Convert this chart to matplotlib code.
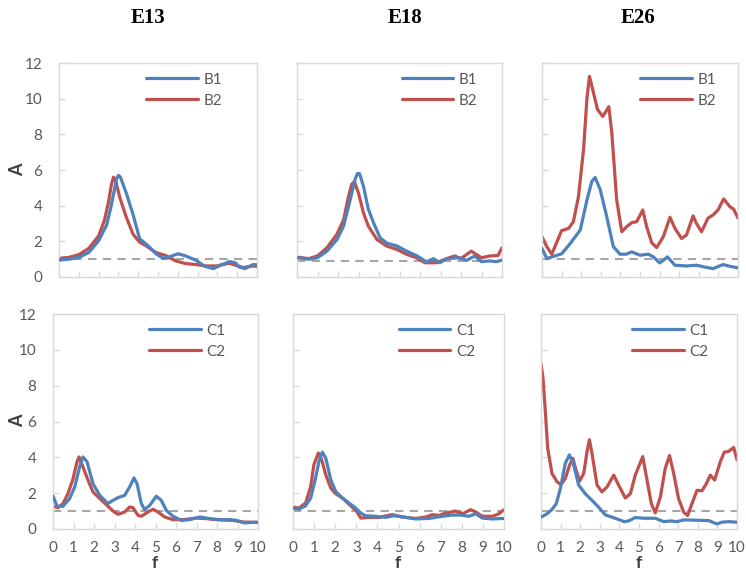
import numpy as np
import matplotlib as mpl
mpl.use("Agg")
import matplotlib.pyplot as plt

mpl.rcParams.update({
    "font.family": ["Lato", "DejaVu Sans"],
    "font.size": 11,
})

blue = '#4F81BD'
red = '#C0504D'
grid_gray = '#D9D9D9'
text_gray = '#595959'

# ---- E13, B series ----
e13_b1_f = [0, 0.5, 1, 1.5, 2, 2.4, 2.6, 2.8, 2.9, 3.0, 3.1, 3.4, 3.74, 4.07, 4.5, 4.9, 5.25, 5.5, 6.0, 6.35, 6.9, 7.36, 7.8, 8.2, 8.6, 8.9, 9.1, 9.4, 9.8, 10]
e13_b1_a = [0.95, 1.0, 1.1, 1.37, 2.03, 2.9, 3.8, 4.9, 5.5, 5.7, 5.6, 4.7, 3.5, 2.15, 1.75, 1.3, 1.05, 1.1, 1.3, 1.2, 0.95, 0.6, 0.47, 0.68, 0.86, 0.8, 0.56, 0.47, 0.7, 0.68]
e13_b2_f = [0, 0.5, 1, 1.5, 2, 2.3, 2.5, 2.65, 2.75, 2.85, 3.06, 3.4, 3.74, 4.07, 4.4, 4.9, 5.4, 5.9, 6.4, 6.9, 7.44, 7.95, 8.6, 8.8, 9.3, 9.8, 10]
e13_b2_a = [1.05, 1.1, 1.25, 1.6, 2.3, 3.2, 4.2, 5.2, 5.6, 5.45, 4.5, 3.35, 2.4, 1.95, 1.75, 1.37, 1.2, 0.9, 0.75, 0.7, 0.62, 0.62, 0.77, 0.7, 0.53, 0.62, 0.6]

# ---- E18, B series ----
e18_b1_f = [0, 0.57, 1.0, 1.46, 1.95, 2.27, 2.6, 2.84, 2.95, 3.05, 3.24, 3.48, 3.73, 4.05, 4.38, 4.86, 5.35, 5.83, 6.32, 6.65, 6.97, 7.3, 7.94, 8.27, 8.67, 9.0, 9.4, 9.72, 10]
e18_b1_a = [1.08, 1.0, 1.08, 1.45, 2.1, 2.85, 4.35, 5.5, 5.8, 5.8, 5.1, 3.8, 3.05, 2.2, 1.9, 1.75, 1.45, 1.2, 0.85, 1.03, 0.8, 1.03, 1.08, 0.93, 1.18, 0.86, 0.9, 0.86, 0.95]
e18_b2_f = [0, 0.57, 1.0, 1.46, 1.95, 2.27, 2.51, 2.67, 2.8, 3.0, 3.24, 3.48, 3.9, 4.38, 4.86, 5.35, 5.83, 6.24, 6.8, 7.3, 7.7, 8.0, 8.5, 9.0, 9.4, 9.8, 10]
e18_b2_a = [1.12, 1.03, 1.18, 1.64, 2.4, 3.2, 4.5, 5.2, 5.35, 4.7, 3.6, 2.85, 2.1, 1.73, 1.55, 1.27, 1.08, 0.8, 0.8, 1.03, 1.18, 1.03, 1.45, 1.08, 1.18, 1.2, 1.64]

# ---- E26, B series ----
e26_b1_f = [0, 0.25, 0.5, 1.0, 1.44, 1.95, 2.29, 2.54, 2.71, 2.97, 3.3, 3.64, 3.98, 4.3, 4.58, 5.0, 5.42, 5.68, 6.0, 6.2, 6.4, 6.78, 7.37, 7.88, 8.3, 8.73, 9.24, 9.58, 10]
e26_b1_a = [1.6, 1.03, 1.13, 1.3, 1.88, 2.63, 4.3, 5.36, 5.58, 4.9, 3.4, 1.7, 1.28, 1.28, 1.41, 1.22, 1.28, 1.13, 0.79, 0.94, 1.13, 0.66, 0.62, 0.66, 0.56, 0.47, 0.7, 0.6, 0.51]
e26_b2_f = [0, 0.25, 0.5, 0.76, 1.0, 1.36, 1.6, 1.86, 2.12, 2.29, 2.42, 2.59, 2.83, 3.1, 3.27, 3.41, 3.56, 3.81, 4.07, 4.32, 4.58, 4.83, 5.14, 5.34, 5.6, 5.85, 6.19, 6.53, 6.78, 7.12, 7.37, 7.71, 7.88, 8.14, 8.47, 8.73, 8.98, 9.27, 9.58, 9.78, 10]
e26_b2_a = [2.26, 1.69, 1.28, 1.97, 2.6, 2.73, 3.1, 4.5, 7.15, 9.97, 11.25, 10.5, 9.4, 9.0, 9.3, 9.55, 8.1, 4.33, 2.54, 2.82, 3.05, 3.1, 3.76, 2.82, 1.92, 1.65, 2.26, 3.35, 2.73, 2.16, 2.35, 3.43, 3.0, 2.54, 3.3, 3.48, 3.76, 4.38, 3.95, 3.8, 3.3]

# ---- E13, C series ----
e13_c1_f = [0, 0.2, 0.49, 0.81, 1.06, 1.3, 1.46, 1.66, 1.95, 2.28, 2.68, 2.93, 3.17, 3.5, 3.74, 3.95, 4.1, 4.31, 4.47, 4.72, 5.04, 5.28, 5.53, 5.85, 6.26, 6.67, 7.15, 7.64, 8.13, 8.62, 8.94, 9.35, 9.76, 10]
e13_c1_a = [1.84, 1.27, 1.27, 1.7, 2.35, 3.47, 4.02, 3.75, 2.53, 1.88, 1.42, 1.6, 1.75, 1.88, 2.35, 2.85, 2.53, 1.42, 1.08, 1.32, 1.83, 1.6, 1.04, 0.71, 0.48, 0.52, 0.67, 0.58, 0.52, 0.52, 0.48, 0.34, 0.37, 0.37]
e13_c2_f = [0, 0.24, 0.49, 0.73, 0.98, 1.17, 1.27, 1.46, 1.71, 1.95, 2.28, 2.68, 2.93, 3.17, 3.5, 3.74, 3.9, 4.15, 4.31, 4.63, 4.88, 5.12, 5.45, 5.85, 6.34, 6.99, 7.48, 7.97, 8.78, 9.27, 10]
e13_c2_a = [1.27, 1.19, 1.42, 1.98, 2.81, 3.75, 4.02, 3.47, 2.72, 2.07, 1.7, 1.27, 1.0, 0.82, 0.95, 1.23, 1.19, 0.76, 0.71, 0.95, 1.1, 0.95, 0.67, 0.52, 0.52, 0.61, 0.58, 0.52, 0.48, 0.39, 0.37]

# ---- E18, C series ----
e18_c1_f = [0, 0.28, 0.6, 0.84, 1.07, 1.23, 1.39, 1.55, 1.79, 2.02, 2.34, 2.65, 2.97, 3.21, 3.44, 3.92, 4.39, 4.79, 5.34, 5.81, 6.45, 7.08, 7.55, 7.95, 8.34, 8.66, 8.97, 9.45, 10]
e18_c1_a = [1.17, 1.11, 1.3, 1.73, 2.84, 3.77, 4.29, 3.96, 2.75, 2.1, 1.73, 1.45, 1.17, 0.89, 0.74, 0.71, 0.65, 0.74, 0.65, 0.56, 0.59, 0.71, 0.78, 0.78, 0.71, 0.85, 0.61, 0.56, 0.59]
e18_c2_f = [0, 0.28, 0.6, 0.84, 0.99, 1.2, 1.36, 1.55, 1.79, 2.02, 2.34, 2.73, 3.02, 3.21, 3.6, 4.08, 4.71, 5.18, 5.81, 6.29, 6.6, 6.92, 7.23, 7.7, 8.03, 8.42, 8.66, 8.97, 9.45, 9.76, 10]
e18_c2_a = [1.23, 1.17, 1.45, 2.38, 3.59, 4.24, 3.86, 3.03, 2.28, 1.97, 1.73, 1.3, 0.98, 0.61, 0.65, 0.65, 0.8, 0.67, 0.59, 0.67, 0.8, 0.76, 0.89, 1.0, 0.85, 1.08, 0.95, 0.71, 0.71, 0.85, 1.08]

# ---- E26, C series ----
e26_c1_f = [0, 0.31, 0.56, 0.78, 0.99, 1.24, 1.45, 1.67, 1.92, 2.26, 2.6, 2.94, 3.28, 3.62, 3.96, 4.25, 4.47, 4.81, 5.24, 5.83, 6.26, 6.6, 6.94, 7.28, 7.96, 8.55, 8.98, 9.23, 9.57, 10]
e26_c1_a = [0.66, 0.85, 1.09, 1.41, 2.26, 3.67, 4.14, 3.57, 2.45, 1.97, 1.6, 1.22, 0.79, 0.66, 0.53, 0.41, 0.45, 0.64, 0.6, 0.6, 0.41, 0.45, 0.41, 0.51, 0.49, 0.47, 0.28, 0.38, 0.41, 0.38]
e26_c2_f = [0, 0.1, 0.22, 0.34, 0.56, 0.82, 1.02, 1.24, 1.46, 1.62, 1.79, 1.97, 2.18, 2.35, 2.47, 2.6, 2.86, 3.11, 3.37, 3.71, 3.96, 4.3, 4.56, 4.81, 5.19, 5.41, 5.63, 5.83, 6.09, 6.34, 6.56, 6.77, 7.02, 7.28, 7.48, 7.7, 7.96, 8.21, 8.44, 8.64, 8.86, 9.15, 9.35, 9.57, 9.83, 10]
e26_c2_a = [9.22, 8.46, 6.58, 4.51, 3.1, 2.63, 2.48, 2.82, 3.57, 3.95, 3.29, 2.67, 3.1, 4.33, 4.98, 4.23, 2.45, 2.07, 2.35, 3.01, 2.45, 1.73, 1.97, 3.01, 4.04, 2.73, 1.41, 0.9, 1.79, 3.39, 4.1, 3.1, 1.69, 0.94, 0.75, 1.41, 2.16, 2.13, 2.54, 3.01, 2.73, 3.76, 4.29, 4.33, 4.55, 3.86]

titles = ['E13', 'E18', 'E26']
ref_level = [[1.0, 0.9, 1.0], [1.0, 1.0, 1.0]]
series = [
    [(e13_b1_f, e13_b1_a, e13_b2_f, e13_b2_a),
     (e18_b1_f, e18_b1_a, e18_b2_f, e18_b2_a),
     (e26_b1_f, e26_b1_a, e26_b2_f, e26_b2_a)],
    [(e13_c1_f, e13_c1_a, e13_c2_f, e13_c2_a),
     (e18_c1_f, e18_c1_a, e18_c2_f, e18_c2_a),
     (e26_c1_f, e26_c1_a, e26_c2_f, e26_c2_a)],
]
labels = [('B1', 'B2'), ('C1', 'C2')]

W, H = 746, 572
# panel boxes in pixels: left, top, right, bottom
boxes = [
    [(59, 63, 257, 277), (297, 63, 502, 277), (542, 63, 738, 277)],
    [(53, 314, 258, 529), (293, 314, 504, 529), (541, 314, 737, 529)],
]
legend_x = [[0.44, 0.51, 0.50], [0.47, 0.50, 0.465]]

fig = plt.figure(figsize=(W / 100, H / 100), dpi=100)

for r in range(2):
    for c in range(3):
        l, t, rt, b = boxes[r][c]
        ax = fig.add_axes([l / W, 1 - b / H, (rt - l) / W, (b - t) / H])
        f1, a1, f2, a2 = series[r][c]
        ax.axhline(ref_level[r][c], color='#A6A6A6', lw=1.5, ls=(0, (4, 3)), zorder=1)
        ax.plot(f1, a1, color=blue, lw=2.3, label=labels[r][0], zorder=3,
                solid_joinstyle='round', solid_capstyle='round')
        ax.plot(f2, a2, color=red, lw=2.3, label=labels[r][1], zorder=2,
                solid_joinstyle='round', solid_capstyle='round')
        ax.set_xlim(0, 10)
        ax.set_ylim(0, 12)
        ax.set_xticks(np.arange(0, 11, 1))
        ax.set_yticks(np.arange(0, 13, 2))
        for s in ax.spines.values():
            s.set_color(grid_gray)
            s.set_linewidth(1.0)
        ax.tick_params(direction='in', length=4.5, width=1, color=grid_gray,
                       labelcolor=text_gray, labelsize=11)
        ax.tick_params(axis='y', pad=12)
        ax.tick_params(axis='x', pad=9)
        if c != 0:
            ax.set_yticklabels([])
        if r == 0:
            ax.set_xticklabels([])
        leg = ax.legend(loc='upper left', bbox_to_anchor=(legend_x[r][c], 0.955),
                        frameon=False, fontsize=11, handlelength=3.4,
                        handletextpad=0.35, labelspacing=0.45, borderpad=0,
                        borderaxespad=0)
        for txt in leg.get_texts():
            txt.set_color(text_gray)

# column titles
for x, ttl in zip([148, 405, 638], titles):
    fig.text(x / W, 1 - 18 / H, ttl, ha='center', va='center',
             family='Liberation Serif', weight='bold', fontsize=15)

# axis labels
for y in [170, 421]:
    fig.text(18 / W, 1 - y / H, 'A', rotation=90, ha='center', va='center',
             weight='bold', fontsize=13, color='#404040')
for x in [155, 398, 639]:
    fig.text(x / W, 1 - 571 / H, 'f', ha='center', va='bottom',
             weight='bold', fontsize=12.5, color='#404040')

fig.savefig('out.png', dpi=100, facecolor='white')
